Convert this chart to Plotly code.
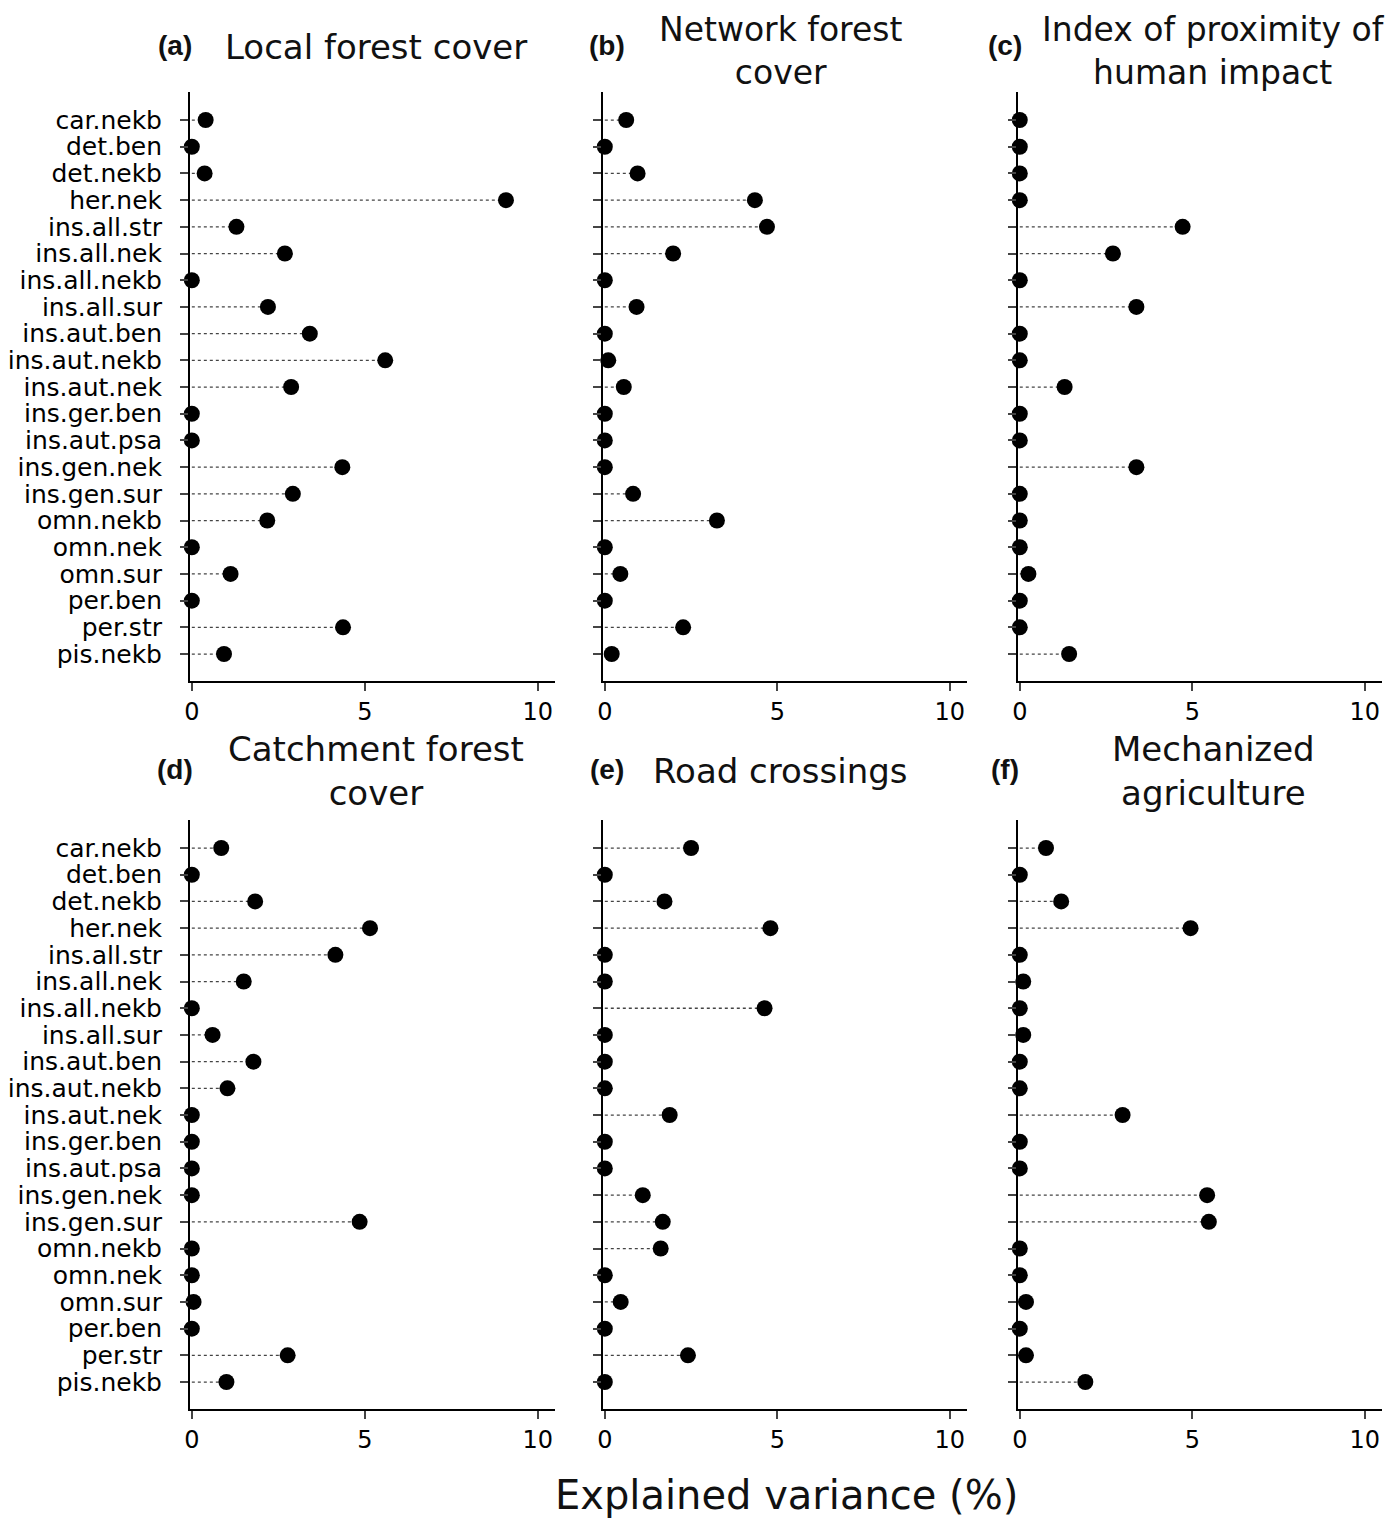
import plotly.graph_objects as go

# response groups (top to bottom)
groups = ["car.nekb", "det.ben", "det.nekb", "her.nek", "ins.all.str", "ins.all.nek",
          "ins.all.nekb", "ins.all.sur", "ins.aut.ben", "ins.aut.nekb", "ins.aut.nek",
          "ins.ger.ben", "ins.aut.psa", "ins.gen.nek", "ins.gen.sur", "omn.nekb",
          "omn.nek", "omn.sur", "per.ben", "per.str", "pis.nekb"]

# explained variance (%) per predictor
local_forest = [0.4, 0, 0.37, 9.08, 1.29, 2.69, 0, 2.2, 3.41, 5.59, 2.87,
                0, 0, 4.35, 2.92, 2.18, 0, 1.12, 0, 4.37, 0.93]
network_forest = [0.62, 0, 0.95, 4.35, 4.7, 1.98, 0, 0.92, 0, 0.1, 0.55,
                  0, 0, 0, 0.82, 3.25, 0, 0.45, 0, 2.27, 0.2]
human_impact = [0, 0, 0, 0, 4.72, 2.7, 0, 3.38, 0, 0, 1.3,
                0, 0, 3.38, 0, 0, 0, 0.25, 0, 0, 1.43]
catchment_forest = [0.85, 0, 1.83, 5.15, 4.15, 1.5, 0, 0.6, 1.78, 1.03, 0,
                    0, 0, 0, 4.85, 0, 0, 0.05, 0, 2.77, 1.0]
road_crossings = [2.5, 0, 1.73, 4.8, 0, 0, 4.63, 0, 0, 0, 1.88,
                  0, 0, 1.1, 1.68, 1.62, 0, 0.46, 0, 2.41, 0]
mech_agriculture = [0.76, 0, 1.2, 4.95, 0, 0.1, 0, 0.1, 0, 0, 2.98,
                    0, 0, 5.43, 5.48, 0, 0, 0.18, 0, 0.18, 1.9]

panels = [
    ("(a)", "Local forest cover", local_forest),
    ("(b)", "Network forest<br>cover", network_forest),
    ("(c)", "Index of proximity of<br>human impact", human_impact),
    ("(d)", "Catchment forest<br>cover", catchment_forest),
    ("(e)", "Road crossings", road_crossings),
    ("(f)", "Mechanized<br>agriculture", mech_agriculture),
]

# page body has an 8px margin, so the figure is a bit smaller than the window
OFF = 8
W, H = 1397 - 2 * OFF, 1526 - 2 * OFF


def px(x):
    return (x - OFF) / W


def py(y):
    return 1 - (y - OFF) / H


col_px = [(181, 549), (597, 964), (1015, 1382)]
row_px = [(92, 681), (820, 1409)]
title_x = [369, 776, 1212]
label_x = [166, 601, 1002]

FONT = "DejaVu Sans"
idx = list(range(len(groups)))

fig = go.Figure()
for k, (tag, title, vals) in enumerate(panels):
    r, c = divmod(k, 3)
    n = "" if k == 0 else str(k + 1)
    xs, ys = [], []
    for i, v in enumerate(vals):
        xs += [0, v, None]
        ys += [i, i, None]
    fig.add_trace(go.Scatter(x=xs, y=ys, mode="lines",
                             line=dict(color="#444444", width=1.3, dash="dot"),
                             xaxis="x" + n, yaxis="y" + n, hoverinfo="skip",
                             showlegend=False, cliponaxis=False))
    fig.add_trace(go.Scatter(x=vals, y=idx, mode="markers",
                             marker=dict(color="black", size=16),
                             xaxis="x" + n, yaxis="y" + n, showlegend=False,
                             cliponaxis=False, text=groups))

    x0, x1 = col_px[c]
    y0, y1 = row_px[r]
    fig.layout["xaxis" + n] = dict(
        domain=[px(x0), px(x1)], anchor="y" + n, range=[-0.06, 10.5],
        tickvals=[0, 5, 10], ticks="outside", ticklen=8, tickwidth=1.5,
        showline=True, linecolor="black", linewidth=1.5, showgrid=False,
        zeroline=False, tickfont=dict(family=FONT, size=24, color="black"))
    fig.layout["yaxis" + n] = dict(
        domain=[py(y1), py(y0)], anchor="x" + n, range=[21.01, -1.05],
        tickvals=idx, ticktext=groups if c == 0 else [""] * len(groups),
        ticks="outside", ticklen=8, tickwidth=1.5, showline=True,
        linecolor="black", linewidth=1.5, showgrid=False, zeroline=False,
        ticklabelstandoff=13,
        tickfont=dict(family=FONT, size=25, color="black"))

    ty = 47 if r == 0 else 771
    two_lines = "<br>" in title
    if r == 0 and two_lines:
        # keep the two-line titles inside the top edge
        fig.add_annotation(x=px(title_x[c]), y=1, xref="paper", yref="paper",
                           text=title, showarrow=False, xanchor="center", yanchor="top",
                           font=dict(family=FONT, size=33, color="#111111"))
    else:
        fig.add_annotation(x=px(title_x[c]), y=py(ty), xref="paper", yref="paper",
                           text=title, showarrow=False, xanchor="center", yanchor="middle",
                           font=dict(family=FONT, size=34, color="#111111"))
    fig.add_annotation(x=px(label_x[c]), y=py(ty - 1), xref="paper", yref="paper",
                       text="<b>" + tag + "</b>", showarrow=False, xanchor="center",
                       yanchor="middle", font=dict(family="Liberation Sans", size=28,
                                                  color="#111111"))

fig.add_annotation(x=px(782), y=py(1495), xref="paper", yref="paper",
                   text="Explained variance (%)", showarrow=False,
                   xanchor="center", yanchor="middle",
                   font=dict(family=FONT, size=40, color="#111111"))

fig.update_layout(width=W, height=H, autosize=False,
                  margin=dict(l=0, r=0, t=0, b=0),
                  plot_bgcolor="white", paper_bgcolor="white")

fig.write_html("out.html")
